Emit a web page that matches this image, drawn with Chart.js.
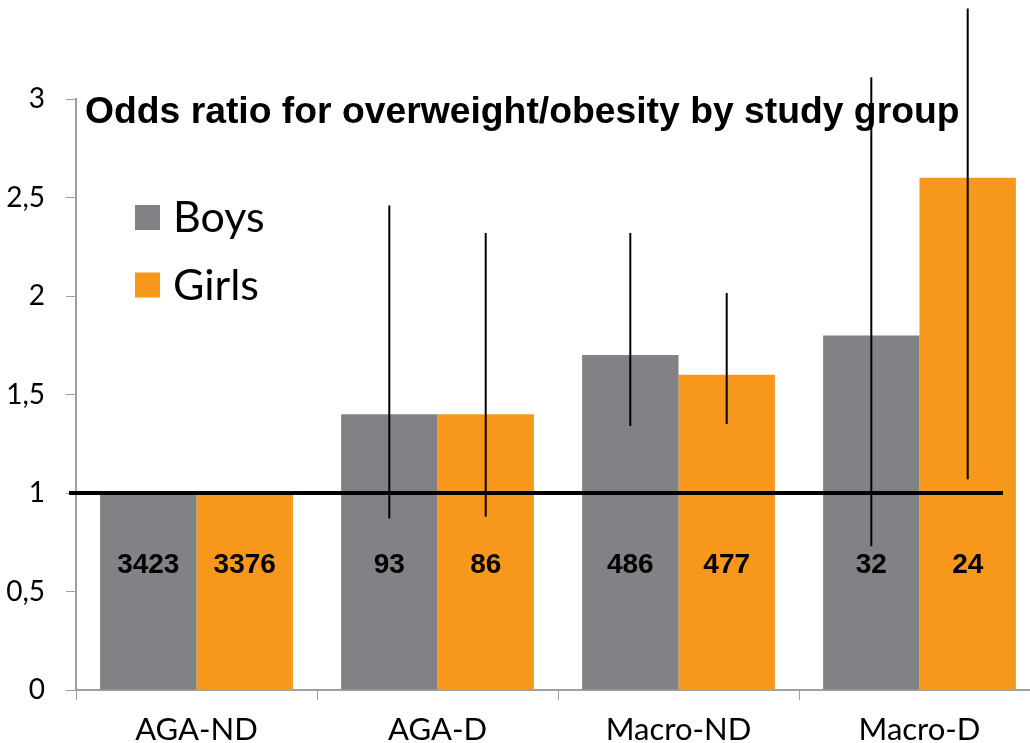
<!DOCTYPE html>
<html>
<head>
<meta charset="utf-8">
<script src="https://cdn.jsdelivr.net/npm/chart.js@4.4.0/dist/chart.umd.min.js"></script>
<style>
  html, body { margin: 0; padding: 0; background: #fff; overflow: hidden; }
  #wrap { width: 1040px; height: 743px; }
</style>
</head>
<body>
<div id="wrap"><canvas id="chart" width="1040" height="743"></canvas></div>
<script>
const categories = ['AGA-ND', 'AGA-D', 'Macro-ND', 'Macro-D'];
const boysOR = [1, 1.4, 1.7, 1.8];
const girlsOR = [1, 1.4, 1.6, 2.6];
const boysLow = [null, 0.87, 1.34, 0.73];
const boysHigh = [null, 2.46, 2.32, 3.11];
const girlsLow = [null, 0.88, 1.35, 1.07];
const girlsHigh = [null, 2.32, 2.015, 3.46];
const boysN = [3423, 93, 486, 32];
const girlsN = [3376, 86, 477, 24];
const yTicks = [0, 0.5, 1, 1.5, 2, 2.5, 3];
const titleText = 'Odds ratio for overweight/obesity by study group';

const gray = '#818286';
const orange = '#F7981D';
const axisColor = '#a0a0a0';

// error bars, reference line at 1, bar counts, title and legend
const overlay = {
  id: 'overlay',
  afterDatasetsDraw(chart) {
    const ctx = chart.ctx;
    const area = chart.chartArea;
    const y = chart.scales.y;
    ctx.save();

    // error bars (no caps)
    ctx.strokeStyle = '#000';
    ctx.lineWidth = 2;
    const bars = [[boysLow, boysHigh], [girlsLow, girlsHigh]];
    bars.forEach(([lo, hi], di) => {
      chart.getDatasetMeta(di).data.forEach((bar, i) => {
        if (lo[i] == null) return;
        ctx.beginPath();
        ctx.moveTo(bar.x, y.getPixelForValue(lo[i]));
        ctx.lineTo(bar.x, y.getPixelForValue(hi[i]));
        ctx.stroke();
      });
    });

    // reference line at OR = 1
    ctx.lineWidth = 4;
    const y1 = y.getPixelForValue(1);
    ctx.beginPath();
    ctx.moveTo(area.left - 7, y1);
    ctx.lineTo(area.right - 37, y1);
    ctx.stroke();

    // counts inside bars
    ctx.fillStyle = '#000';
    ctx.font = 'bold 28px "Liberation Sans", Arial, sans-serif';
    ctx.textAlign = 'center';
    ctx.textBaseline = 'alphabetic';
    const ly = y.getPixelForValue(0.595);
    [boysN, girlsN].forEach((arr, di) => {
      chart.getDatasetMeta(di).data.forEach((bar, i) => {
        ctx.fillText(String(arr[i]), bar.x, ly);
      });
    });

    // title
    ctx.textAlign = 'left';
    ctx.font = 'bold 37.3px "Liberation Sans", Arial, sans-serif';
    ctx.fillText(titleText, area.left + 9, area.top + 24);

    // legend
    ctx.font = '43px Lato, "Open Sans", sans-serif';
    chart.data.datasets.forEach((ds, i) => {
      const sx = area.left + 59;
      const sy = area.top + 106 + i * 67.5;
      ctx.fillStyle = ds.backgroundColor;
      ctx.fillRect(sx, sy, 25, 25);
      ctx.fillStyle = '#000';
      ctx.fillText(ds.label, sx + 38, sy + 27);
    });

    ctx.restore();
  }
};

new Chart(document.getElementById('chart'), {
  type: 'bar',
  data: {
    labels: categories,
    datasets: [
      { label: 'Boys', data: boysOR, backgroundColor: gray, borderWidth: 0 },
      { label: 'Girls', data: girlsOR, backgroundColor: orange, borderWidth: 0 }
    ]
  },
  options: {
    responsive: false,
    animation: false,
    layout: { padding: { top: 99, right: 0, left: 0, bottom: 0 } },
    datasets: { bar: { categoryPercentage: 0.8, barPercentage: 1.0 } },
    plugins: {
      legend: { display: false },
      tooltip: { enabled: false },
      title: { display: false }
    },
    scales: {
      x: {
        offset: true,
        afterFit: s => { s.height = 53; },
        grid: { offset: true, drawOnChartArea: false, drawTicks: true, tickLength: 10, color: axisColor },
        border: { display: true, color: axisColor, width: 2 },
        ticks: { color: '#000', padding: 11, font: { family: 'Lato, "Open Sans", sans-serif', size: 31 } }
      },
      y: {
        min: 0,
        max: 3,
        afterFit: s => { s.width = 76; },
        afterBuildTicks: s => { s.ticks = yTicks.map(v => ({ value: v })); },
        grid: { drawOnChartArea: false, drawTicks: true, tickLength: 10, color: axisColor },
        border: { display: true, color: axisColor, width: 2 },
        ticks: {
          color: '#000',
          padding: 21,
          font: { family: 'Lato, "Open Sans", sans-serif', size: 28 },
          callback: v => String(v).replace('.', ',')
        }
      }
    }
  },
  plugins: [overlay]
});
</script>
</body>
</html>
